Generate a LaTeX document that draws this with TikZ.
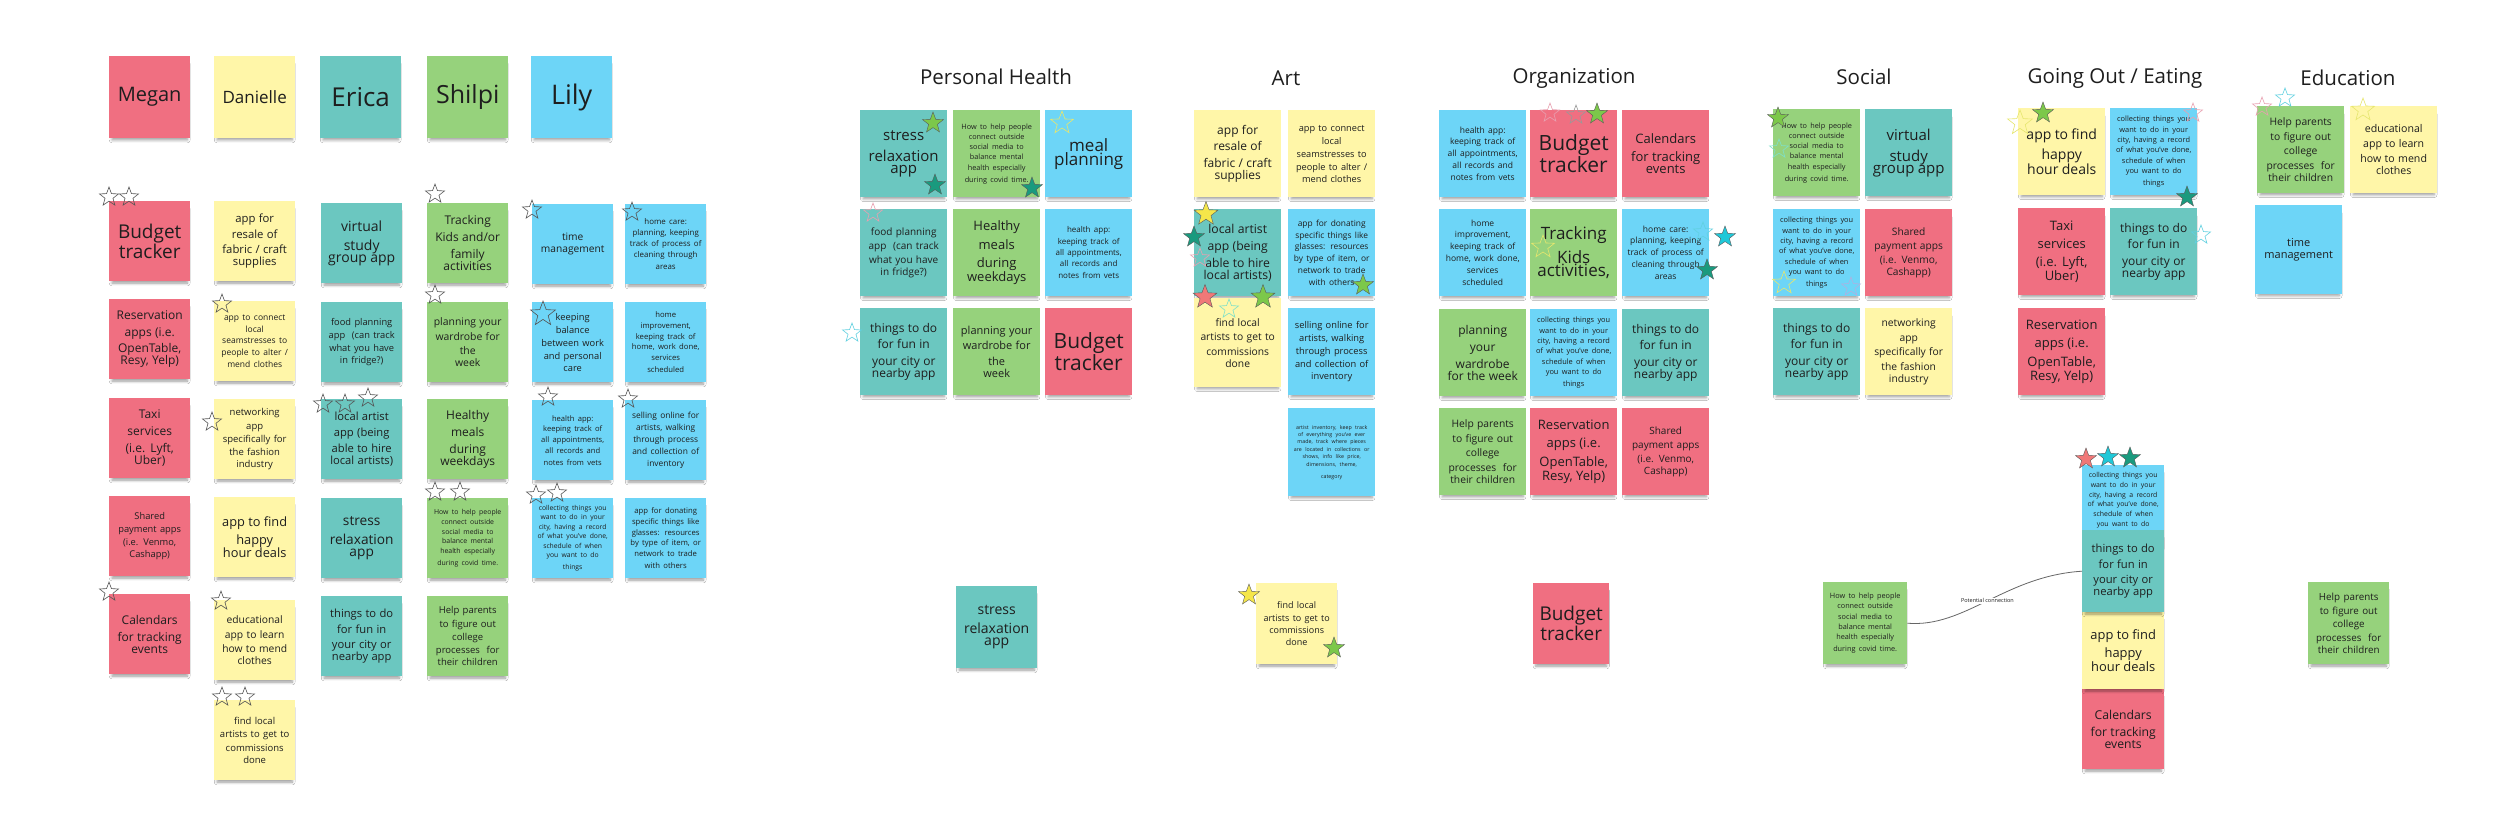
\documentclass[tikz,border=0pt]{standalone}
\usepackage{fontspec}
\setmainfont{Open Sans}
\usetikzlibrary{shapes.geometric,shadows.blur}
\definecolor{cR}{HTML}{F06F81}
\definecolor{cY}{HTML}{FFF6A8}
\definecolor{cT}{HTML}{6BC7C0}
\definecolor{cG}{HTML}{96D27C}
\definecolor{cB}{HTML}{6DD5F7}
\definecolor{ink}{HTML}{1E1E1E}
\definecolor{sGreen}{HTML}{7CC84A}
\definecolor{sTeal}{HTML}{1A9A7E}
\definecolor{sYel}{HTML}{F5E64A}
\definecolor{sSalm}{HTML}{F07878}
\definecolor{sCyan}{HTML}{1FC8D8}
\definecolor{oPink}{HTML}{E8A0B0}
\definecolor{oYel}{HTML}{E6E66E}
\definecolor{oMint}{HTML}{7EE0C8}
\definecolor{oCyan}{HTML}{60D0E0}
\definecolor{oLav}{HTML}{B0B0E0}
\definecolor{oGray}{HTML}{555555}
\newcommand\fz[1]{\fontsize{#1}{\fpeval{1.4*#1}}\selectfont}
\begin{document}
\begin{tikzpicture}[x=1pt,y=-1pt,
  nt/.style={anchor=north west, inner sep=0pt, align=center, text=ink,
    blur shadow={shadow xshift=0pt, shadow yshift=-5pt, shadow opacity=40, shadow blur steps=6, shadow blur radius=3pt, shadow scale=0.93}},
  szL/.style={nt, minimum width=81pt, minimum height=80pt, text width=79pt},
  szB/.style={nt, minimum width=87pt, minimum height=87pt, text width=85pt},
  nR/.style={fill=cR}, nY/.style={fill=cY}, nT/.style={fill=cT}, nG/.style={fill=cG}, nB/.style={fill=cB},
  ttl/.style={font=\fz{20.5}, text=ink, inner sep=0pt},
  so/.style={star, star points=5, star point ratio=2.4, minimum size=20pt, inner sep=0pt, draw=#1, line width=0.6pt},
  so/.default=oGray,
  sf/.style={star, star points=5, star point ratio=2.4, minimum size=22pt, inner sep=0pt, fill=#1, draw=black!65, line width=0.4pt},
  conn/.style={draw=black!60, line width=0.8pt},
  lbl/.style={font=\fz{5.5}, text=ink, fill=white, inner sep=1pt}
]
\useasboundingbox (0,0) rectangle (2520,831);
\fill[white] (0,0) rectangle (2520,831);

% ---------- header notes ----------
\node[szL,nR,minimum height=82pt] (hM) at (109,56) {\fz{20}Megan};
\node[szL,nY,minimum height=82pt] (hD) at (214,56) {\fz{17}Danielle};
\node[szL,nT,minimum height=82pt] (hE) at (320,56) {\fz{26}Erica};
\node[szL,nG,minimum height=82pt] (hS) at (427,56) {\fz{25}Shilpi};
\node[szL,nB,minimum height=82pt] (hL) at (531,56) {\fz{27}Lily};

% ---------- Megan ----------
\node[szL,nR] (m1) at (109,201) {\fz{19}Budget\\tracker};
\node[szL,nR] (m2) at (109,299) {\fz{12}Reservation\\apps (i.e.\\OpenTable,\\Resy, Yelp)};
\node[szL,nR] (m3) at (109,398) {\fz{12}Taxi\\services\\(i.e. Lyft,\\Uber)};
\node[szL,nR] (m4) at (109,496) {\fz{9.3}Shared\\payment apps\\(i.e. Venmo,\\Cashapp)};
\node[szL,nR] (m5) at (109,594) {\fz{12}Calendars\\for tracking\\events};

% ---------- Danielle ----------
\node[szL,nY] (d1) at (214,201) {\fz{11.3}app for\\resale of\\fabric / craft\\supplies};
\node[szL,nY] (d2) at (214,301) {\fz{8.5}app to connect\\local\\seamstresses to\\people to alter /\\mend clothes};
\node[szL,nY] (d3) at (214,399) {\fz{9.5}networking\\app\\specifically for\\the fashion\\industry};
\node[szL,nY] (d4) at (214,497) {\fz{12.8}app to find\\happy\\hour deals};
\node[szL,nY] (d5) at (214,600) {\fz{10.3}educational\\app to learn\\how to mend\\clothes};
\node[szL,nY] (d6) at (214,700) {\fz{9.5}find local\\artists to get to\\commissions\\done};

% ---------- Erica ----------
\node[szL,nT] (e1) at (321,203) {\fz{14}virtual\\study\\group app};
\node[szL,nT] (e2) at (321,302) {\fz{9.3}food planning\\app\ \ (can track\\what you have\\in fridge?)};
\node[szL,nT] (e3) at (321,399) {\fz{11.2}local artist\\app (being\\able to hire\\local artists)};
\node[szL,nT] (e4) at (321,498) {\fz{13.7}stress\\relaxation\\app};
\node[szL,nT] (e5) at (321,596) {\fz{11.2}things to do\\for fun in\\your city or\\nearby app};

% ---------- Shilpi ----------
\node[szL,nG] (p1) at (427,203) {\fz{12}Tracking\\Kids and/or\\family\\activities};
\node[szL,nG] (p2) at (427,302) {\fz{10.4}planning your\\wardrobe for\\the\\week};
\node[szL,nG] (p3) at (427,399) {\fz{12}Healthy\\meals\\during\\weekdays};
\node[szL,nG] (p4) at (427,498) {\fz{6.9}How to help people\\connect outside\\social media to\\balance mental\\health especially\\during covid time.};
\node[szL,nG] (p5) at (427,596) {\fz{9.5}Help parents\\to figure out\\college\\processes\ \ for\\their children};

% ---------- Lily ----------
\node[szL,nB] (l1) at (532,204) {\fz{10.2}time\\management};
\node[szL,nB] (l2) at (532,302) {\fz{9.3}keeping\\balance\\between work\\and personal\\care};
\node[szL,nB] (l3) at (532,400) {\fz{7.6}health app:\\keeping track of\\all appointments,\\all records and\\notes from vets};
\node[szL,nB] (l4) at (532,498) {\fz{6.8}collecting things you\\want to do in your\\city, having a record\\of what you've done,\\schedule of when\\you want to do\\things};
\node[szL,nB] (k1) at (625,204) {\fz{7.9}home care:\\planning, keeping\\track of process of\\cleaning through\\areas};
\node[szL,nB] (k2) at (625,302) {\fz{7.7}home\\improvement,\\keeping track of\\home, work done,\\services\\scheduled};
\node[szL,nB] (k3) at (625,400) {\fz{8.4}selling online for\\artists, walking\\through process\\and collection of\\inventory};
\node[szL,nB] (k4) at (625,498) {\fz{7.7}app for donating\\specific things like\\glasses: resources\\by type of item, or\\network to trade\\with others};

% ---------- Personal Health ----------
\node[ttl] (tPH) at (996,77) {Personal Health};
\node[szB,nT] (ph1) at (860,110) {\fz{15}stress\\relaxation\\app};
\node[szB,nG] (ph2) at (953,110) {\fz{7.3}How to help people\\connect outside\\social media to\\balance mental\\health especially\\during covid time.};
\node[szB,nB] (ph3) at (1045,110) {\fz{17}meal\\planning};
\node[szB,nT] (ph4) at (860,209) {\fz{10}food planning\\app\ \ (can track\\what you have\\in fridge?)};
\node[szB,nG] (ph5) at (953,209) {\fz{13}Healthy\\meals\\during\\weekdays};
\node[szB,nB] (ph6) at (1045,209) {\fz{8}health app:\\keeping track of\\all appointments,\\all records and\\notes from vets};
\node[szB,nT] (ph7) at (860,308) {\fz{12}things to do\\for fun in\\your city or\\nearby app};
\node[szB,nG] (ph8) at (953,308) {\fz{11}planning your\\wardrobe for\\the\\week};
\node[szB,nR] (ph9) at (1045,308) {\fz{21}Budget\\tracker};

% ---------- Art ----------
\node[ttl] (tA) at (1286,78) {Art};
\node[szB,nY] (a1) at (1194,110) {\fz{12}app for\\resale of\\fabric / craft\\supplies};
\node[szB,nT] (a2) at (1194,209) {\fz{12.2}local artist\\app (being\\able to hire\\local artists)};
\node[szB,nY,minimum height=89pt] (a3) at (1194,298) {\fz{10.3}find local\\artists to get to\\commissions\\done};
\node[szB,nY] (a4) at (1288,110) {\fz{9.2}app to connect\\local\\seamstresses to\\people to alter /\\mend clothes};
\node[szB,nB] (a5) at (1288,209) {\fz{8.4}app for donating\\specific things like\\glasses: resources\\by type of item, or\\network to trade\\with others};
\node[szB,nB] (a6) at (1288,308) {\fz{9.3}selling online for\\artists, walking\\through process\\and collection of\\inventory};
\node[szB,nB,minimum height=88pt] (a7) at (1288,408) {\fz{5.3}artist inventory, keep track\\of everything you've ever\\made, track where pieces\\are located in collections or\\shows, info like price,\\dimensions, theme,\\category};

% ---------- Organization ----------
\node[ttl] (tO) at (1574,78) {Organization};
\node[szB,nB] (o1) at (1439,110) {\fz{8.5}health app:\\keeping track of\\all appointments,\\all records and\\notes from vets};
\node[szB,nR] (o2) at (1530,110) {\fz{21}Budget\\tracker};
\node[szB,nR] (o3) at (1622,110) {\fz{13}Calendars\\for tracking\\events};
\node[szB,nB] (o4) at (1439,209) {\fz{8.5}home\\improvement,\\keeping track of\\home, work done,\\services\\scheduled};
\node[szB,nG] (o5) at (1530,209) {\fz{17}Tracking\\Kids\\activities,};
\node[szB,nB] (o6) at (1622,209) {\fz{8.5}home care:\\planning, keeping\\track of process of\\cleaning through\\areas};
\node[szB,nG] (o7) at (1439,309) {\fz{12}planning\\your\\wardrobe\\for the week};
\node[szB,nB] (o8) at (1530,309) {\fz{7.4}collecting things you\\want to do in your\\city, having a record\\of what you've done,\\schedule of when\\you want to do\\things};
\node[szB,nT] (o9) at (1622,309) {\fz{12}things to do\\for fun in\\your city or\\nearby app};
\node[szB,nG] (o10) at (1439,408) {\fz{10.3}Help parents\\to figure out\\college\\processes\ \ for\\their children};
\node[szB,nR] (o11) at (1530,408) {\fz{13}Reservation\\apps (i.e.\\OpenTable,\\Resy, Yelp)};
\node[szB,nR] (o12) at (1622,408) {\fz{10}Shared\\payment apps\\(i.e. Venmo,\\Cashapp)};

% ---------- Social ----------
\node[ttl] (tS) at (1864,77) {Social};
\node[szB,nG] (sc1) at (1773,109) {\fz{7.3}How to help people\\connect outside\\social media to\\balance mental\\health especially\\during covid time.};
\node[szB,nT] (sc2) at (1865,109) {\fz{15}virtual\\study\\group app};
\node[szB,nB] (sc3) at (1773,209) {\fz{7.4}collecting things you\\want to do in your\\city, having a record\\of what you've done,\\schedule of when\\you want to do\\things};
\node[szB,nR] (sc4) at (1865,209) {\fz{10.2}Shared\\payment apps\\(i.e. Venmo,\\Cashapp)};
\node[szB,nT] (sc5) at (1773,308) {\fz{12}things to do\\for fun in\\your city or\\nearby app};
\node[szB,nY] (sc6) at (1865,308) {\fz{10.3}networking\\app\\specifically for\\the fashion\\industry};

% ---------- Going Out / Eating ----------
\node[ttl] (tG) at (2115,78) {Going Out / Eating};
\node[szB,nY] (g1) at (2018,108) {\fz{14}app to find\\happy\\hour deals};
\node[szB,nB] (g2) at (2110,108) {\fz{7.4}collecting things you\\want to do in your\\city, having a record\\of what you've done,\\schedule of when\\you want to do\\things};
\node[szB,nR] (g3) at (2018,208) {\fz{13}Taxi\\services\\(i.e. Lyft,\\Uber)};
\node[szB,nT] (g4) at (2110,208) {\fz{12}things to do\\for fun in\\your city or\\nearby app};
\node[szB,nR] (g5) at (2018,308) {\fz{13}Reservation\\apps (i.e.\\OpenTable,\\Resy, Yelp)};

% ---------- Education ----------
\node[ttl] (tE) at (2348,78) {Education};
\node[szB,nG] (ed1) at (2257,106) {\fz{10.3}Help parents\\to figure out\\college\\processes\ \ for\\their children};
\node[szB,nY] (ed2) at (2350,106) {\fz{10.6}educational\\app to learn\\how to mend\\clothes};
\node[szB,nB,minimum height=89pt] (ed3) at (2255,205) {\fz{11}time\\management};

% ---------- bottom row ----------
\node[szL,nT,minimum height=82pt] (b1) at (956,586) {\fz{14}stress\\relaxation\\app};
\node[szL,nY,minimum height=81pt] (b2) at (1256,583) {\fz{9}find local\\artists to get to\\commissions\\done};
\node[szL,nR,minimum width=76pt,text width=74pt,minimum height=81pt] (b3) at (1533,583) {\fz{19}Budget\\tracker};
\node[szL,nG,minimum height=82pt] (b4) at (2308,582) {\fz{9.8}Help parents\\to figure out\\college\\processes\ \ for\\their children};
\node[szL,nG,minimum width=84pt,text width=82pt,minimum height=82pt] (b5) at (1823,582) {\fz{7.3}How to help people\\connect outside\\social media to\\balance mental\\health especially\\during covid time.};

% ---------- stack ----------
\node[szL,nR,minimum width=82pt,minimum height=80pt] (st4) at (2082,689) {\fz{12.2}Calendars\\for tracking\\events};
\node[szL,nY,minimum width=82pt,minimum height=77pt] (st3) at (2082,612) {\fz{12.9}app to find\\happy\\hour deals};
\node[szL,nB,minimum width=82pt,minimum height=82pt] (st1) at (2082,465) {\fz{6.9}collecting things you\\want to do in your\\city, having a record\\of what you've done,\\schedule of when\\you want to do\\things};
\node[szL,nT,minimum width=82pt,minimum height=82pt] (st2) at (2082,530) {\fz{11.2}things to do\\for fun in\\your city or\\nearby app};

% ---------- connector ----------
\draw[conn] (b5.east) .. controls (1965,628) and (2005,576) .. (st2.west)
  node[pos=0.5, lbl] (pc) {Potential connection};

% ---------- stars: left section ----------
\node[so] (z1) at (109,197) {};
\node[so] (z2) at (129,197) {};
\node[so] (z3) at (222,304) {};
\node[so] (z4) at (212,422) {};
\node[so] (z5) at (109,592) {};
\node[so] (z6) at (221,601) {};
\node[so] (z7) at (222,697) {};
\node[so] (z8) at (245,697) {};
\node[so] (z9) at (323,404) {};
\node[so] (z10) at (345,404) {};
\node[so] (z11) at (368,398) {};
\node[so] (z12) at (435,194) {};
\node[so] (z13) at (435,295) {};
\node[so] (z14) at (435,492) {};
\node[so] (z15) at (460,492) {};
\node[so] (z16) at (532,210) {};
\node[so] (z17) at (632,212) {};
\node[so,minimum size=26pt] (z18) at (543,314) {};
\node[so] (z19) at (548,397) {};
\node[so] (z20) at (628,399) {};
\node[so] (z21) at (536,495) {};
\node[so] (z22) at (557,493) {};

% ---------- stars: Personal Health ----------
\node[sf=sGreen] (y1) at (933,123) {};
\node[sf=sTeal] (y2) at (935,185) {};
\node[sf=sTeal] (y3) at (1032,188) {};
\node[so=oYel,minimum size=24pt] (y4) at (1062,123) {};
\node[so=oPink] (y5) at (873,213) {};
\node[so=oCyan] (y6) at (852,333) {};

% ---------- stars: Art ----------
\node[sf=sYel,minimum size=25pt] (x1) at (1206,214) {};
\node[sf=sTeal] (x2) at (1194,237) {};
\node[so=oPink] (x3) at (1200,258) {};
\node[sf=sSalm,minimum size=25pt] (x4) at (1205,297) {};
\node[sf=sGreen,minimum size=25pt] (x5) at (1263,297) {};
\node[so=oMint] (x6) at (1229,309) {};
\node[sf=sGreen] (x7) at (1363,285) {};

% ---------- stars: Organization ----------
\node[so=oPink] (w1) at (1550,113) {};
\node[so=black!40] (w2) at (1576,115) {};
\node[sf=sGreen] (w3) at (1597,114) {};
\node[so=oYel,minimum size=24pt] (w4) at (1543,247) {};
\node[so=oCyan] (w5) at (1703,232) {};
\node[sf=sCyan] (w6) at (1725,237) {};
\node[sf=sTeal] (w7) at (1707,270) {};

% ---------- stars: Social ----------
\node[sf=sGreen] (v1) at (1778,118) {};
\node[so=oMint] (v2) at (1779,149) {};
\node[so=oYel,minimum size=24pt] (v3) at (1784,283) {};
\node[so=oLav] (v4) at (1851,287) {};

% ---------- stars: Going Out ----------
\node[so=oYel,minimum size=26pt] (u1) at (2020,123) {};
\node[sf=sGreen] (u2) at (2043,113) {};
\node[so=oPink] (u3) at (2193,113) {};
\node[sf=sTeal] (u4) at (2187,197) {};
\node[so=oCyan] (u5) at (2201,235) {};

% ---------- stars: Education ----------
\node[so=oPink] (t1) at (2262,107) {};
\node[so=oCyan] (t2) at (2285,98) {};
\node[so=oYel,minimum size=24pt] (t3) at (2363,110) {};

% ---------- stars: stack & bottom ----------
\node[sf=sSalm] (r1) at (2086,459) {};
\node[sf=sCyan] (r2) at (2108,457) {};
\node[sf=sTeal] (r3) at (2130,458) {};
\node[sf=sYel] (r4) at (1249,595) {};
\node[sf=sGreen] (r5) at (1334,648) {};
\end{tikzpicture}
\end{document}
